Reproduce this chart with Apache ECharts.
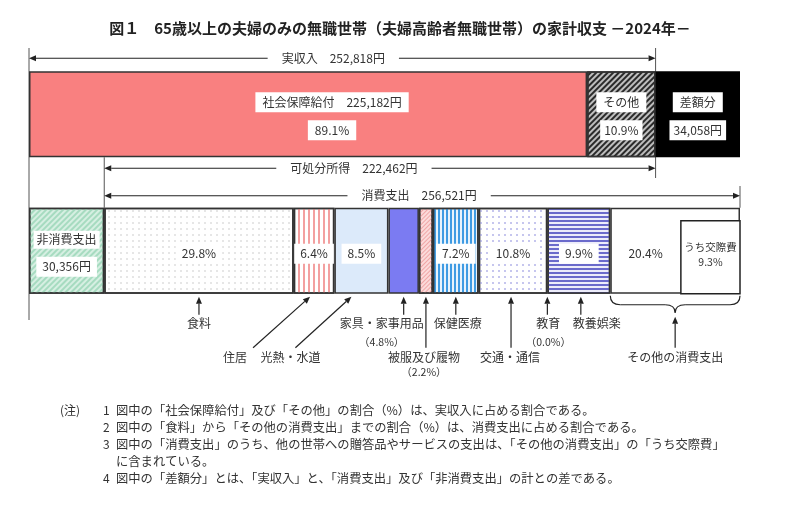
<!DOCTYPE html>
<html><head><meta charset="utf-8">
<script src="https://cdn.jsdelivr.net/npm/echarts@6/dist/echarts.min.js"></script>
<style>html,body{margin:0;padding:0;background:#fff}#c{width:800px;height:513px}</style>
</head><body><div id="c"></div>
<script>
// ---------------- data ----------------
const rows = ['収入', '支出'];
const titleText = '図１　65歳以上の夫婦のみの無職世帯（夫婦高齢者無職世帯）の家計収支 －2024年－';
const actualIncome = 252818;          // 実収入
const disposableIncome = 222462;      // 可処分所得
const incomeItems = ['社会保障給付', 'その他', '差額分'];
const incomeValues = [225182, 27636, 34058];
const incomeShares = [89.1, 10.9];
const nonConsumption = 30356;         // 非消費支出
const consumption = 256521;           // 消費支出
const consItems = ['食料', '住居', '光熱・水道', '家具・家事用品', '被服及び履物', '保健医療', '交通・通信', '教育', '教養娯楽', 'その他の消費支出'];
const consShares = [29.8, 6.4, 8.5, 4.8, 2.2, 7.2, 10.8, 0.0, 9.9, 20.4];
const socialExpenseShare = 9.3;       // うち交際費
const notes = [
  ['1', '図中の「社会保障給付」及び「その他」の割合（%）は、実収入に占める割合である。'],
  ['2', '図中の「食料」から「その他の消費支出」までの割合（%）は、消費支出に占める割合である。'],
  ['3', '図中の「消費支出」のうち、他の世帯への贈答品やサービスの支出は、「その他の消費支出」の「うち交際費」'],
  ['', 'に含まれている。'],
  ['4', '図中の「差額分」とは、「実収入」と、「消費支出」及び「非消費支出」の計との差である。']
];

// ---------------- styles ----------------
const FONT = '"Noto Sans CJK JP", "Noto Sans", sans-serif';
const stripe = (color, on, off, rot) => ({symbol: 'rect', symbolSize: 1, dashArrayX: [1, 0], dashArrayY: [on, off], rotation: rot, color});
const dots = (color, size, gap, s) => ({symbol: 'circle', symbolSize: s, dashArrayX: [size, gap], dashArrayY: [size, gap], color});
const segStyle = {
  '社会保障給付': {color: '#F98080'},
  'その他': {color: '#bdbdbd', decal: stripe('#2a2a2a', 1.1, 1.7, -Math.PI / 4)},
  '差額分': {color: '#000', borderColor: '#000'},
  '非消費支出': {color: '#d6efe2', decal: stripe('#a6dbc0', 1.4, 1.6, -Math.PI / 4)},
  '食料': {color: '#fff', decal: dots('#dedede', 1.3, 3.4, 1)},
  '住居': {color: '#fff', decal: stripe('#f3a0a0', 1.3, 2.6, Math.PI / 2)},
  '光熱・水道': {color: '#dceafa'},
  '家具・家事用品': {color: '#7b7bf2'},
  '被服及び履物': {color: '#fbdada', decal: stripe('#f0a6a6', 1, 2, -Math.PI / 4)},
  '保健医療': {color: '#e8f3fc', decal: stripe('#3f9be3', 2, 1.4, Math.PI / 2)},
  '交通・通信': {color: '#fff', decal: dots('#b3b3e8', 1.8, 3.6, 1)},
  '教育': {color: '#fff'},
  '教養娯楽': {color: '#ececfa', decal: stripe('#6a6acb', 1.8, 1.7, 0)},
  'その他の消費支出': {color: '#fff'}
};
const labelledCons = ['食料', '住居', '光熱・水道', '保健医療', '交通・通信', '教養娯楽', 'その他の消費支出'];

// ---------------- series ----------------
const BAR_W = 86;
function barSeries(name, row, value) {
  return {
    type: 'bar', name, stack: 'all', barWidth: BAR_W, silent: true,
    data: row === 0 ? [value, '-'] : ['-', value],
    itemStyle: Object.assign({borderColor: '#333', borderWidth: 1.5}, segStyle[name])
  };
}
const consValues = consShares.map(s => consumption * s / 100);
const total = nonConsumption + consumption;
const series = [];
incomeItems.forEach((n, i) => series.push(barSeries(n, 0, incomeValues[i])));
series.push(barSeries('非消費支出', 1, nonConsumption));
consItems.forEach((n, i) => { if (consValues[i] > 0) series.push(barSeries(n, 1, consValues[i])); });
series.push({
  type: 'custom', z: 5, silent: true,
  encode: {x: [0, 1], y: 2},
  data: [[total - consumption * socialExpenseShare / 100, total, 1]],
  renderItem(params, api) {
    const a = api.coord([api.value(0), api.value(2)]);
    const b = api.coord([api.value(1), api.value(2)]);
    const bottom = a[1] + BAR_W / 2;
    const top = a[1] - BAR_W / 2 + 13;
    return {type: 'rect', shape: {x: a[0], y: top, width: b[0] - a[0], height: bottom - top},
      style: {fill: '#fff', stroke: '#222', lineWidth: 1.5}};
  }
});

const chart = echarts.init(document.getElementById('c'));
chart.setOption({
  animation: false,
  title: {text: titleText, left: 'center', top: 16, textStyle: {fontFamily: FONT, fontSize: 15, fontWeight: 'bold', color: '#222'}},
  grid: {left: 29, right: 60, top: 46, height: 273},
  xAxis: {type: 'value', min: 0, max: total, show: false},
  yAxis: {type: 'category', data: rows, inverse: true, show: false},
  series
});

// ---------------- annotations through the scales ----------------
const X = v => chart.convertToPixel({xAxisIndex: 0}, v);
const Yc = c => chart.convertToPixel({yAxisIndex: 0}, c);
const yc0 = Yc(rows[0]), yc1 = Yc(rows[1]);
const H = BAR_W / 2;
const top0 = yc0 - H, bot0 = yc0 + H, top1 = yc1 - H, bot1 = yc1 + H;
const g = [];
const LC = '#222';
const mctx = document.createElement('canvas').getContext('2d');
const tw = (t, size) => { mctx.font = size + 'px ' + FONT; return mctx.measureText(t).width; };
const fmt = v => Math.round(v).toLocaleString('en-US');

function line(x1, y1, x2, y2, w, color, z) {
  g.push({type: 'line', z: z || 50, silent: true, shape: {x1, y1, x2, y2}, style: {stroke: color || LC, lineWidth: w || 1.2}});
}
function curve(x1, y1, cx, cy, x2, y2) {
  g.push({type: 'bezierCurve', z: 50, silent: true, shape: {x1, y1, x2, y2, cpx1: cx, cpy1: cy}, style: {stroke: LC, lineWidth: 1.2, fill: null}});
}
function arrow(x1, y1, x2, y2) {
  const dx = x2 - x1, dy = y2 - y1, len = Math.hypot(dx, dy), ux = dx / len, uy = dy / len;
  const L = 7, W = 3, bx = x2 - ux * L, by = y2 - uy * L;
  line(x1, y1, bx, by);
  g.push({type: 'polygon', z: 50, silent: true,
    shape: {points: [[x2, y2], [bx - uy * W, by + ux * W], [bx + uy * W, by - ux * W]]}, style: {fill: LC}});
}
function text(t, x, y, o) {
  o = o || {};
  const st = {text: t, x, y, fill: '#333', font: (o.size || 12) + 'px ' + FONT, align: o.align || 'center', verticalAlign: 'middle'};
  if (o.box) { st.backgroundColor = '#fff'; st.padding = o.pad || [4, 7]; }
  g.push({type: 'text', z: 100, silent: true, style: st});
}
function dim(xa, xb, y, label, cx) {
  const w = tw(label, 12), gap = 14;
  arrow(cx - w / 2 - gap, y, xa, y);
  arrow(cx + w / 2 + gap, y, xb, y);
  text(label, cx, y);
}

// guide lines
line(X(0), 48, X(0), 320, 1, '#555', 1);
line(X(actualIncome), 48, X(actualIncome), 178, 1, '#555', 1);
line(X(nonConsumption), bot0, X(nonConsumption), top1, 1, '#555', 1);
line(X(total), 186, X(total), top1, 1, '#555', 1);

// dimension arrows
dim(X(0), X(actualIncome), top0 - 13, '実収入　' + fmt(actualIncome) + '円', (X(0) + X(actualIncome)) / 2 - 9);
dim(X(nonConsumption), X(nonConsumption + disposableIncome), bot0 + 11, '可処分所得　' + fmt(disposableIncome) + '円', (X(nonConsumption) + X(nonConsumption + disposableIncome)) / 2 - 26);
dim(X(nonConsumption), X(total), top1 - 12, '消費支出　' + fmt(consumption) + '円', (X(nonConsumption) + X(total)) / 2 - 3);

// income bar labels
const ssMid = X(incomeValues[0] / 2);
text(incomeItems[0] + '　' + fmt(incomeValues[0]) + '円', ssMid + 24, yc0 - 12, {box: true});
text(incomeShares[0].toFixed(1) + '%', ssMid + 24, yc0 + 16, {box: true});
const oiMid = X(incomeValues[0] + incomeValues[1] / 2);
text(incomeItems[1], oiMid, yc0 - 12, {box: true});
text(incomeShares[1].toFixed(1) + '%', oiMid, yc0 + 16, {box: true, pad: [4, 4]});
const dfMid = X(actualIncome + incomeValues[2] / 2);
text(incomeItems[2], dfMid, yc0 - 12, {box: true});
text(fmt(incomeValues[2]) + '円', dfMid, yc0 + 16, {box: true, pad: [4, 4]});

// expenditure bar labels
const ncMid = X(nonConsumption / 2);
text('非消費支出', ncMid, yc1 - 11, {box: true, pad: [3, 3]});
text(fmt(nonConsumption) + '円', ncMid, yc1 + 16, {box: true, pad: [4, 6]});
const consStart = [];
let acc = nonConsumption;
consValues.forEach(v => { consStart.push(acc); acc += v; });
const consMid = consValues.map((v, i) => X(consStart[i] + v / 2));
const innerStart = total - consumption * socialExpenseShare / 100;
consItems.forEach((n, i) => {
  if (labelledCons.indexOf(n) < 0) return;
  let cx = consMid[i];
  if (i === consItems.length - 1) cx = (X(consStart[i]) + X(innerStart)) / 2;
  text(consShares[i].toFixed(1) + '%', cx, yc1 + 3, {box: true, pad: [4, 6]});
});
const innerMid = (X(innerStart) + X(total)) / 2;
text('うち交際費', innerMid, yc1 - 4, {size: 10.5});
text(socialExpenseShare.toFixed(1) + '%', innerMid, yc1 + 11, {size: 10.5});

// pointer arrows below
const tipY = bot1 + 3, shortY = bot1 + 21, longY = bot1 + 54;
const row1 = bot1 + 30, sub1 = bot1 + 48, row2 = bot1 + 64, sub2 = bot1 + 78;
// [index, tipDx, startDx, long?, labelDx]
const pointers = [
  [0, 0, 0, false, 0],
  [1, -4, -61, true, -75],
  [2, -10, -66, true, -61],
  [3, 0, 0, false, -22],
  [4, 0, 0, true, -2],
  [5, 0, 0, false, 2],
  [6, -2, -2, true, -1],
  [7, 0, 0, false, 1],
  [8, 2, 2, false, 16]
];
pointers.forEach(p => {
  const i = p[0];
  const bx = consValues[i] > 0 ? consMid[i] : X(consStart[i]);
  const ly = p[3] ? longY : shortY;
  arrow(bx + p[2], ly, bx + p[1], tipY);
  const lx = bx + p[1] + p[4];
  text(consItems[i], lx, p[3] ? row2 : row1);
  if (i === 3 || i === 4 || i === 7) {
    text('（' + consShares[i].toFixed(1) + '%）', lx, p[3] ? sub2 : sub1, {size: 10.5});
  }
});
// brace for その他の消費支出
const oL = X(consStart[9]), oR = X(total), oC = (oL + oR) / 2;
const bTop = bot1 + 2, bMid = bot1 + 11, bTip = bot1 + 19;
curve(oL, bTop, oL, bMid, oL + 10, bMid);
line(oL + 10, bMid, oC - 10, bMid);
curve(oC - 10, bMid, oC, bMid, oC, bTip);
curve(oC, bTip, oC, bMid, oC + 10, bMid);
line(oC + 10, bMid, oR - 10, bMid);
curve(oR - 10, bMid, oR, bMid, oR, bTop);
arrow(oC, longY, oC, bTip + 4);
text(consItems[9], oC, row2);

// notes
text('(注)', 60, 410, {align: 'left'});
notes.forEach((n, i) => {
  const y = 410 + i * 17;
  if (n[0]) text(n[0], 103, y, {align: 'left'});
  text(n[1], 116, y, {align: 'left', size: 12.3});
});

chart.setOption({graphic: {elements: g}});
</script>
</body></html>
